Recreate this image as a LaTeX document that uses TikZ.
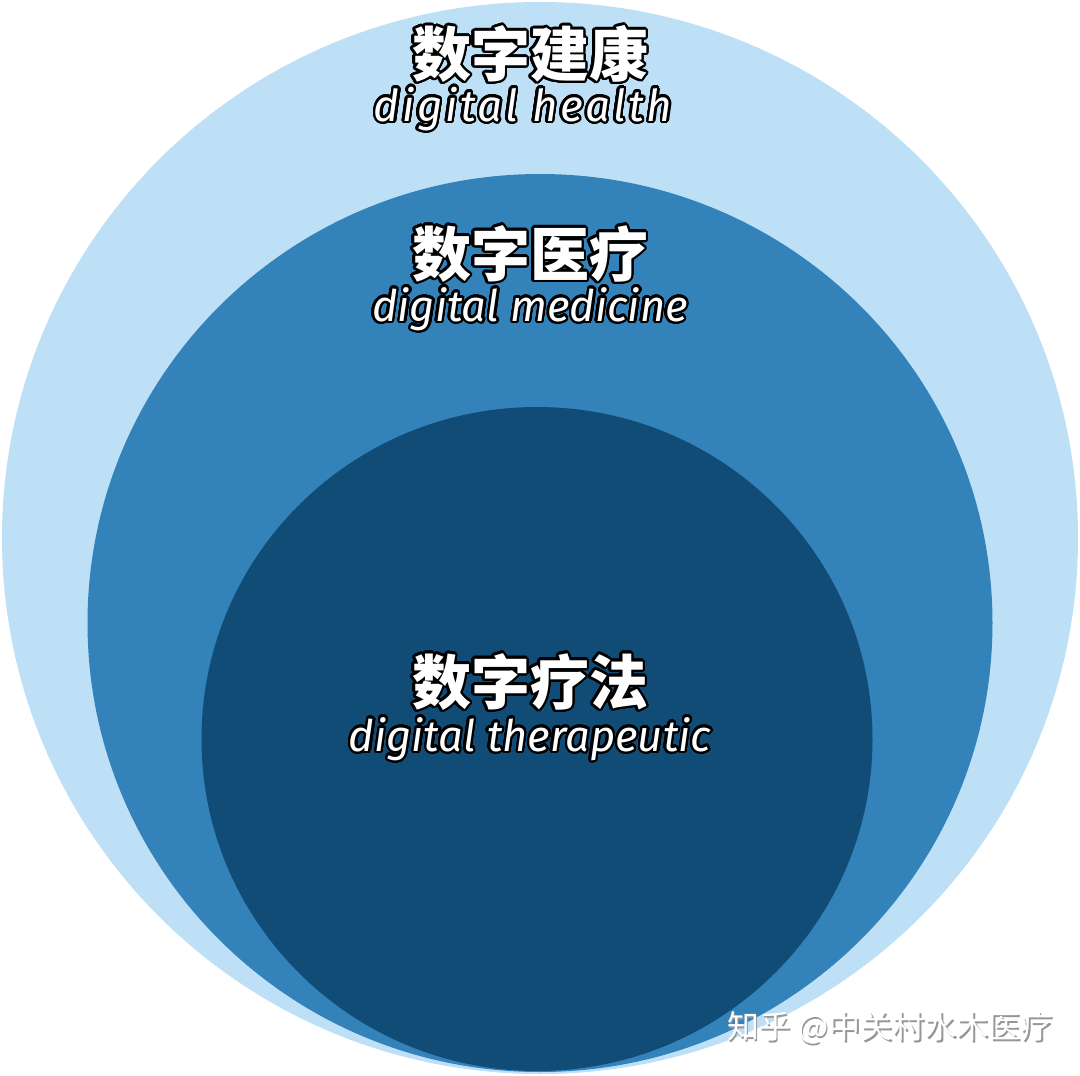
\documentclass[tikz,border=0pt]{standalone}
\usepackage{fontspec}
\usepackage{contour}
\newfontfamily\cjk{Noto Sans CJK SC}
\newfontfamily\enfont{Fira Sans}[LetterSpace=6]
\newfontfamily\enfontb{Fira Sans}
\contourlength{2.4pt}
\contournumber{32}
\definecolor{outerblue}{RGB}{189,224,246}
\definecolor{midblue}{RGB}{51,130,186}
\definecolor{innerblue}{RGB}{17,76,119}
\definecolor{wmgray}{RGB}{150,150,150}
\tikzset{
  zh/.style={inner sep=0pt, font=\cjk\bfseries\fontsize{59}{64}\selectfont},
  en/.style={inner sep=0pt, font=\enfont\itshape\fontsize{44}{50}\selectfont},
  enb/.style={inner sep=0pt, font=\enfontb\itshape\fontsize{43.5}{50}\selectfont},
  wmtext/.style={inner sep=0pt, font=\cjk\fontsize{32}{36}\selectfont},
}
\newcommand{\outl}[1]{\contour{black}{\textcolor{white}{#1}}}
\begin{document}
\begin{tikzpicture}[x=1pt,y=-1pt]
\useasboundingbox (0,0) rectangle (1080,1076);
\fill[white] (0,0) rectangle (1080,1076);
\fill[outerblue] (540,538) ellipse [x radius=538, y radius=536];
\fill[midblue] (540,623) ellipse [x radius=452.5, y radius=449];
\fill[innerblue] (537,739) ellipse [x radius=335.5, y radius=332];
\node[zh] (t1) at (530,55) {\outl{数字建康}};
\node[en] (e1) at (523,110) {\outl{digital health}};
\node[zh] (t2) at (530,255) {\outl{数字医疗}};
\node[enb] (e2) at (530,310) {\outl{digital medicine}};
\node[zh] (t3) at (530,683) {\outl{数字疗法}};
\node[enb] (e3) at (530,740) {\outl{digital therapeutic}};
\node[wmtext, text=wmgray] (wms) at (891.5,1029.5) {知乎 @中关村水木医疗};
\node[wmtext, text=white] (wm) at (890,1028) {知乎 @中关村水木医疗};
\end{tikzpicture}
\end{document}
